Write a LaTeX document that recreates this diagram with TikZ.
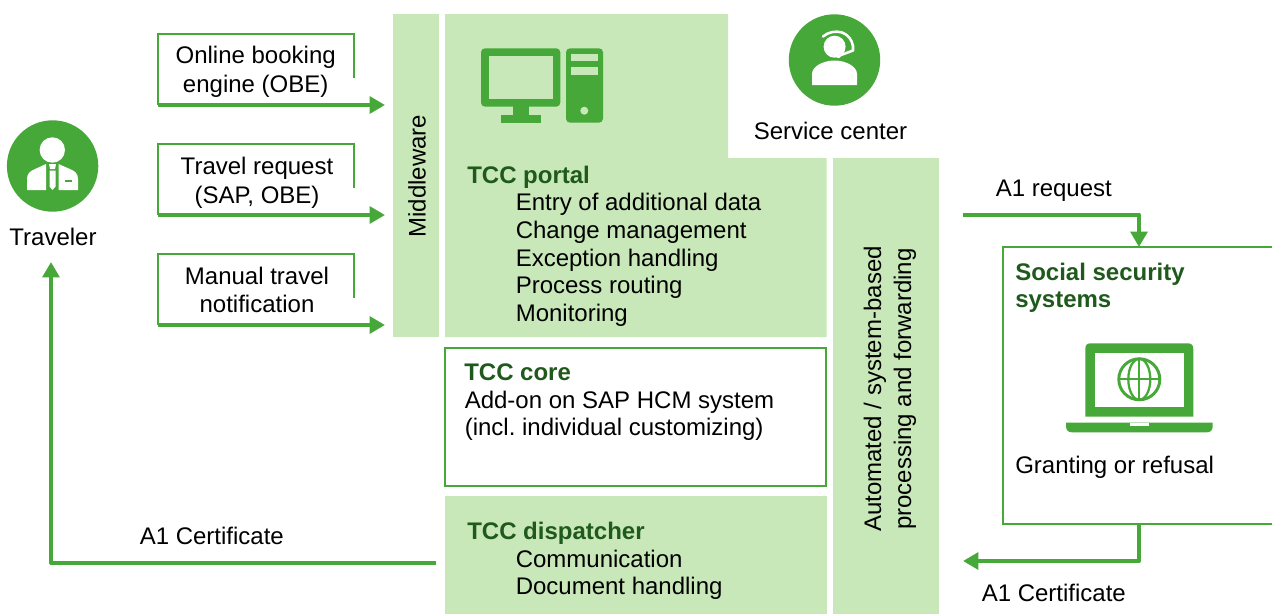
\documentclass[tikz,border=0pt]{standalone}
\usepackage{fontspec}
\setmainfont{Liberation Sans}
\usetikzlibrary{arrows.meta}
\definecolor{gr}{HTML}{46A838}
\definecolor{lg}{HTML}{C8E8B9}
\definecolor{dk}{HTML}{1F5A1C}
\frenchspacing
\tikzset{
  panel/.style={fill=lg,draw=none},
  outline/.style={draw=gr,line width=1.5pt},
  flow/.style={draw=gr,line width=3pt,line join=round,-{Triangle[length=11.5pt,width=12.5pt]},shorten >=0pt},
  txt/.style={inner sep=0pt,font=\fontsize{18}{20.6}\selectfont,text=black},
  ltxt/.style={txt,anchor=base west,align=left},
  ctxt/.style={txt,anchor=base,align=center},
  head/.style={ltxt,font=\fontsize{18}{20.6}\selectfont\bfseries,text=dk},
  ico/.style={fill=gr,draw=none},
  icow/.style={fill=white,draw=none},
  icol/.style={fill=lg,draw=none}
}
\begin{document}
\begin{tikzpicture}[x=0.75pt,y=-0.75pt]
\useasboundingbox (0,0) rectangle (1272,614);
% panels
\path[panel] (393,14) rectangle (439,337);
\path[panel] (445,14) -- (728,14) -- (728,158) -- (826.5,158) -- (826.5,337) -- (445,337) -- cycle;
\path[outline,fill=white] (445,348) rectangle (825.5,485.5);
\path[panel] (445,496) rectangle (826.5,614);
\path[panel] (833,158) rectangle (939,614);
% free ends
\coordinate (b1s) at (157.5,105);
\coordinate (b1e) at (385,105);
\coordinate (b2s) at (157.5,215);
\coordinate (b2e) at (385,215);
\coordinate (b3s) at (157.5,325);
\coordinate (b3e) at (385,325);
\coordinate (dispOut) at (436,563);
\coordinate (cornerL) at (51,563);
\coordinate (travIn) at (51,262);
\coordinate (reqStart) at (963,214.5);
\coordinate (reqCorner) at (1139,214.5);
\coordinate (socTop) at (1139,247);
\coordinate (socBot) at (1139,524);
\coordinate (certCorner) at (1139,561);
\coordinate (certEnd) at (963,561);
% open boxes
\draw[outline] (157.5,105) -- (157.5,33.5) -- (354,33.5) -- (354,78);
\draw[outline] (157.5,215) -- (157.5,144) -- (354,144) -- (354,188);
\draw[outline] (157.5,325) -- (157.5,254) -- (354,254) -- (354,298);
\draw[flow] (b1s) -- (b1e);
\draw[flow] (b2s) -- (b2e);
\draw[flow] (b3s) -- (b3e);
\draw[flow] (dispOut) -- (cornerL) -- (travIn);
\draw[outline] (1272,247) -- (1003,247) -- (1003,524) -- (1272,524);
\draw[flow] (reqStart) -- (reqCorner) -- (socTop);
\draw[flow] (socBot) -- (certCorner) -- (certEnd);
% traveler icon
\path[ico] (52.6,166) circle (45.7);
\path[icow] (52.3,150) circle (12.7);
\path[icow] (27,190) -- (27,179) .. controls (27,174) and (30,171) .. (34,169.5) -- (46,164) -- (46,190) -- cycle;
\path[icow] (78,190) -- (78,179) .. controls (78,174) and (75,171) .. (71,169.5) -- (58.5,164) -- (58.5,190) -- cycle;
\path[icow] (49,164) -- (56,164) -- (55,169) -- (50,169) -- cycle;
\path[icow] (49.5,170.5) -- (55.5,170.5) -- (55.5,186.5) -- (52.5,190) -- (49.5,186.5) -- cycle;
\path[ico] (64.5,179.5) rectangle (72,181.5);
% service icon
\path[ico] (834.5,60) circle (45.7);
\path[icow] (834.6,46.7) circle (11);
\path[icow] (812,85) -- (812,74) .. controls (812,66) and (824,60.5) .. (834.5,60.5) .. controls (845,60.5) and (857,66) .. (857,74) -- (857,85) -- cycle;
\draw[white,line width=1.9pt,line cap=round] (823,36.5) .. controls (828,32) and (836,30.5) .. (842,32.5) .. controls (848,34.5) and (852,40) .. (853,46);
\draw[white,line width=1.9pt,line cap=round,line join=round] (853,46) -- (853,50.5) -- (838.5,56);
\path[icow] (838.5,56) circle (2.2);
% computer icon
\path[ico,rounded corners=3pt] (481,48.3) rectangle (560.3,106.7);
\path[icol] (489,56) rectangle (552.7,98.7);
\path[ico] (513.3,106) rectangle (528.7,115);
\path[ico] (501,115) rectangle (540.7,122.7);
\path[ico,rounded corners=3pt] (566,48.3) rectangle (603,122.7);
\path[icol] (571,54) rectangle (598,61.3);
\path[icol] (571,67) rectangle (598,74.7);
\path[icol] (584.3,110.7) circle (4);
% laptop icon
\path[ico] (1085.3,416.7) -- (1085.3,349) .. controls (1085.3,345) and (1087,343.3) .. (1091,343.3) -- (1187.5,343.3) .. controls (1191.5,343.3) and (1193.3,345) .. (1193.3,349) -- (1193.3,416.7) -- cycle;
\path[icow] (1095,352.7) rectangle (1184,407.3);
\path[ico] (1066,422.7) -- (1212.7,422.7) -- (1212.7,426) .. controls (1212.7,430) and (1210.7,432.3) .. (1207,432.3) -- (1072,432.3) .. controls (1068,432.3) and (1066,430) .. (1066,426) -- cycle;
\path[icow] (1130,422.7) rectangle (1148.7,425.7);
\draw[gr,line width=2.2pt] (1139.3,379.3) circle (20.5);
\begin{scope}[draw=gr,line width=1.7pt]
\draw (1139.3,379.3) ellipse (11 and 20.5);
\draw (1139.3,358.8) -- (1139.3,399.8);
\draw (1118.8,379.3) -- (1159.8,379.3);
\end{scope}
% texts
\node[ctxt] (t1) at (255.7,63) {Online booking};
\node[ctxt] (t1b) at (255.7,92) {engine (OBE)};
\node[ctxt] (t2) at (257,174) {Travel request};
\node[ctxt] (t2b) at (257,203) {(SAP, OBE)};
\node[ctxt] (t3) at (257,284) {Manual travel};
\node[ctxt] (t3b) at (257,312) {notification};
\node[ctxt] (trav) at (53,245) {Traveler};
\node[ctxt] (serv) at (830.5,139) {Service center};
\node[txt,rotate=90,anchor=base] (mw) at (425.5,176) {Middleware};
\node[head] (pt) at (467,183) {TCC portal};
\node[ltxt] (p1) at (515.5,210.5) {Entry of additional data};
\node[ltxt] (p2) at (515.5,238) {Change management};
\node[ltxt] (p3) at (515.5,266) {Exception handling};
\node[ltxt] (p4) at (515.5,293) {Process routing};
\node[ltxt] (p5) at (515.5,321) {Monitoring};
\node[head] (ct) at (464,380) {TCC core};
\node[ltxt] (c1) at (464.5,408) {Add-on on SAP HCM system};
\node[ltxt] (c2) at (464.5,435) {(incl. individual customizing)};
\node[head] (dt) at (467,539) {TCC dispatcher};
\node[ltxt] (d1) at (515.5,567) {Communication};
\node[ltxt] (d2) at (515.5,594) {Document handling};
\node[ltxt] (lc) at (139.5,544) {A1 Certificate};
\node[ltxt] (rq) at (995.5,196) {A1 request};
\node[ltxt] (rc) at (981.5,601) {A1 Certificate};
\node[head] (s1) at (1015,280) {Social security};
\node[head] (s2) at (1015,307) {systems};
\node[ltxt] (g) at (1015,473) {Granting or refusal};
\node[txt,rotate=90,anchor=base] (a1) at (881,389) {Automated / system-based};
\node[txt,rotate=90,anchor=base] (a2) at (911,389) {processing and forwarding};
\end{tikzpicture}
\end{document}
